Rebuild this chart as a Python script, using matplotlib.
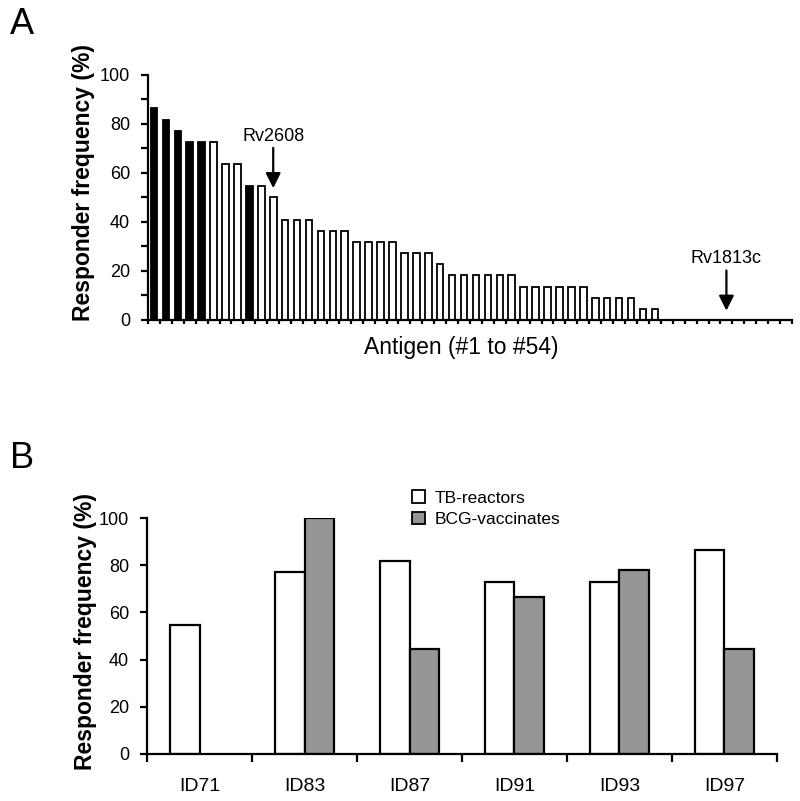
import numpy as np
import matplotlib
matplotlib.use('Agg')
import matplotlib.pyplot as plt
from matplotlib.patches import Patch

plt.rcParams['font.family'] = ['Liberation Sans', 'DejaVu Sans']

# panel A: responder frequency for antigens #1..#54 (n=22 donors)
antigen_freq = [86.4, 81.8, 77.3, 72.7, 72.7, 72.7, 63.6, 63.6, 54.5, 54.5,
                50.0, 40.9, 40.9, 40.9, 36.4, 36.4, 36.4, 31.8, 31.8, 31.8,
                31.8, 27.3, 27.3, 27.3, 22.7, 18.2, 18.2, 18.2, 18.2, 18.2,
                18.2, 13.6, 13.6, 13.6, 13.6, 13.6, 13.6, 9.1, 9.1, 9.1,
                9.1, 4.5, 4.5, 0, 0, 0, 0, 0, 0, 0,
                0, 0, 0, 0]
black_antigens = [1, 2, 3, 4, 5, 9]
marked = {11: 'Rv2608', 49: 'Rv1813c'}

# panel B
peptides = ['ID71', 'ID83', 'ID87', 'ID91', 'ID93', 'ID97']
tb_reactors = [54.5, 77.3, 81.8, 72.7, 72.7, 86.4]
bcg_vaccinates = [0, 100, 44.4, 66.7, 77.8, 44.4]

GRAY = '#969696'
LW = 1.6

fig = plt.figure(figsize=(8, 8.01), dpi=100)

# ---- Panel A ----
axA = fig.add_axes([0.185, 0.6005, 0.805, 0.306])
idx = np.arange(1, len(antigen_freq) + 1)
colors = ['black' if i in black_antigens else 'white' for i in idx]
axA.bar(idx, antigen_freq, width=0.55, color=colors, edgecolor='black', linewidth=1.3)
axA.set_xlim(0.5, len(antigen_freq) + 0.5)
axA.set_ylim(0, 100)
axA.set_xticks(np.arange(0.5, len(antigen_freq) + 1, 1))
axA.set_xticklabels([])
axA.set_yticks(np.arange(0, 101, 10))
axA.set_yticklabels([str(v) if v % 20 == 0 else '' for v in range(0, 101, 10)])
axA.tick_params(axis='x', length=3, width=LW, direction='out')
axA.tick_params(axis='y', length=5, width=LW, direction='out', pad=8, labelsize=13)
axA.set_xlabel('Antigen (#1 to #54)', fontsize=16.5)
axA.xaxis.set_label_coords(0.486, -0.065)
axA.set_ylabel('Responder frequency (%)', fontsize=16.5, fontweight='bold')
axA.yaxis.set_label_coords(-0.082, 0.56)
for s in ['top', 'right']:
    axA.spines[s].set_visible(False)
for s in ['left', 'bottom']:
    axA.spines[s].set_linewidth(LW)

for pos, name in marked.items():
    val = antigen_freq[pos - 1]
    axA.annotate('', xy=(pos, val + 3.8), xytext=(pos, val + 20.2),
                 arrowprops=dict(arrowstyle='-|>,head_length=0.9,head_width=0.45',
                                 color='black', lw=1.6, shrinkA=0, shrinkB=0))
    axA.text(pos, val + 24.9, name, ha='center', va='center', fontsize=13)

fig.text(0.012, 0.969, 'A', fontsize=26, va='center', ha='left')

# ---- Panel B ----
axB = fig.add_axes([0.184, 0.0587, 0.787, 0.2946])
x = np.arange(len(peptides))
w = 0.28
axB.bar(x - w / 2, tb_reactors, width=w, color='white', edgecolor='black', linewidth=LW)
bcg_x = [xi + w / 2 for xi, v in zip(x, bcg_vaccinates) if v > 0]
bcg_v = [v for v in bcg_vaccinates if v > 0]
axB.bar(bcg_x, bcg_v, width=w, color=GRAY, edgecolor='black', linewidth=LW)
axB.set_xlim(-0.5, len(peptides) - 0.5)
axB.set_ylim(0, 100)
axB.set_xticks(np.arange(-0.5, len(peptides), 1))
axB.set_xticklabels([])
axB.set_xticks(x, minor=True)
axB.set_xticklabels(peptides, minor=True)
axB.tick_params(axis='x', which='major', length=6, width=LW, direction='out')
axB.tick_params(axis='x', which='minor', length=0, pad=17, labelsize=14)
axB.set_yticks(np.arange(0, 101, 20))
axB.tick_params(axis='y', length=5, width=LW, direction='out', pad=8, labelsize=13)
axB.set_ylabel('Responder frequency (%)', fontsize=16.5, fontweight='bold')
axB.yaxis.set_label_coords(-0.079, 0.52)
for s in ['top', 'right']:
    axB.spines[s].set_visible(False)
for s in ['left', 'bottom']:
    axB.spines[s].set_linewidth(LW)

handles = [Patch(facecolor='white', edgecolor='black', linewidth=1.3, label='TB-reactors'),
           Patch(facecolor=GRAY, edgecolor='black', linewidth=1.3, label='BCG-vaccinates')]
fig.legend(handles=handles, loc='upper left', bbox_to_anchor=(0.515, 0.388),
           frameon=False, fontsize=12.5, handlelength=0.75, handleheight=0.75,
           handletextpad=0.55, borderpad=0, borderaxespad=0, labelspacing=0.35)

fig.text(0.012, 0.428, 'B', fontsize=26, va='center', ha='left')

fig.savefig('out.png', dpi=100)
